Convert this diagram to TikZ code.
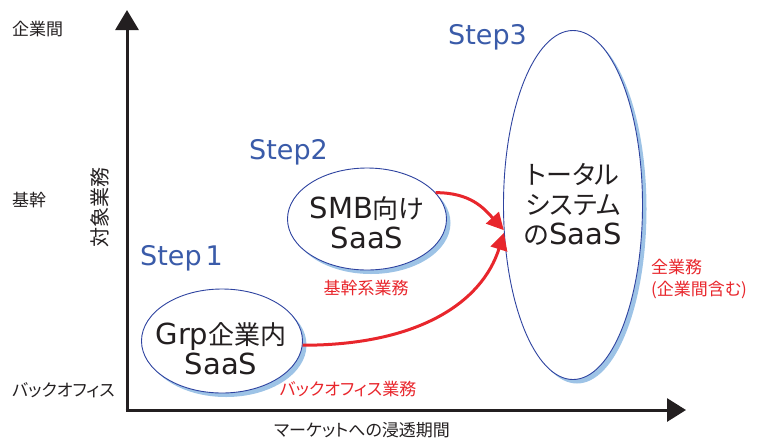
\documentclass[tikz,border=0pt]{standalone}
\usepackage{fontspec}
\setmainfont{Noto Sans CJK JP}[RawFeature=+palt]
\newfontfamily\latf{DejaVu Sans}
\usetikzlibrary{arrows.meta,shapes.geometric,shadows}
\definecolor{stepblue}{HTML}{3A5BA9}
\definecolor{edgeblue}{HTML}{2E43A0}
\definecolor{shadeblue}{HTML}{9DC3E6}
\definecolor{redc}{HTML}{E8262C}
\definecolor{inkc}{HTML}{231F20}
\newcommand{\lt}[1]{{\latf\fontsize{29}{30}\selectfont #1}}
\tikzset{
  axis/.style={line width=3pt, draw=inkc},
  bubble/.style={ellipse, draw=edgeblue, line width=0.9pt, fill=white, inner sep=0pt,
    drop shadow={shadow xshift=4pt, shadow yshift=-4pt, fill=shadeblue, opacity=1}},
  bubbletext/.style={align=center, inner sep=0pt, text=inkc, font=\fontsize{26}{30}\selectfont},
  steplbl/.style={anchor=west, inner sep=0pt, text=stepblue, font=\latf\fontsize{27}{30}\selectfont},
  axlbl/.style={inner sep=0pt, text=inkc, font=\fontsize{17}{20}\selectfont},
  redlbl/.style={inner sep=0pt, text=redc, font=\fontsize{17}{22}\selectfont},
  flow/.style={draw=redc, line width=3pt, -{Triangle[length=17pt,width=17pt]}}
}
\begin{document}
\begin{tikzpicture}[x=1pt,y=-1pt]
\useasboundingbox (0,0) rectangle (758,440);
% axes
\coordinate (o) at (127,410);
\coordinate (ytip) at (127,10);
\coordinate (xtip) at (686,410);
\draw[axis, -{Triangle[length=20pt,width=23pt]}] (o) -- (ytip);
\draw[axis, -{Triangle[length=19pt,width=23pt]}] ([xshift=-1.5pt]o) -- (xtip);
% axis labels
\node[axlbl, anchor=west] (l1) at (12,29) {企業間};
\node[axlbl, anchor=west] (l2) at (12,200) {基幹};
\node[axlbl, anchor=west] (l3) at (12,390) {バックオフィス};
\node[axlbl, rotate=90, font=\fontsize{20}{22}\selectfont] (yl) at (100,207) {対象業務};
\node[axlbl] (xl) at (362,430) {マーケットへの浸透期間};
% bubbles
\node[bubble, minimum width=161pt, minimum height=104pt] (b1) at (222,341) {};
\node[bubble, minimum width=159pt, minimum height=102pt] (b2) at (367,219) {};
\node[bubble, minimum width=139pt, minimum height=349pt] (b3) at (573,205) {};
\node[bubbletext] (t1) at (221,349) {\lt{Grp}企業内\\\lt{SaaS}};
\node[bubbletext] (t2) at (367,223) {\lt{SMB}向け\\\lt{SaaS}};
\node[bubbletext] (t3) at (573,204) {トータル\\システム\\の\lt{SaaS}};
% steps
\node[steplbl] (s1) at (140,258) {Step\hspace{4pt}1};
\node[steplbl] (s2) at (249,152) {Step2};
\node[steplbl] (s3) at (448,37) {Step3};
% red labels
\node[redlbl] (r1) at (366,288) {基幹系業務};
\node[redlbl] (r2) at (348,389) {バックオフィス業務};
\node[redlbl, anchor=west, align=left] (r3) at (651,279) {全業務\\(企業間含む)};
% flows
\draw[flow] (b2.21) .. controls +(35,0) and +(-20,-22) .. (b3.200);
\draw[flow] (b1.357) .. controls +(115,0) and +(-22,70) .. (b3.202);
\end{tikzpicture}
\end{document}
